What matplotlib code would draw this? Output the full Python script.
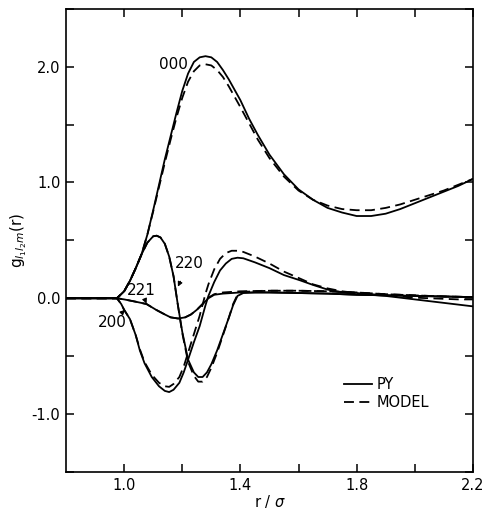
import matplotlib
matplotlib.use("Agg")
import matplotlib.pyplot as plt
from matplotlib.lines import Line2D

plt.rcParams['font.family'] = ['DejaVu Sans']

# ---- data ----
x000 = [0.80, 0.975, 1.00, 1.02, 1.04, 1.06, 1.08, 1.10, 1.12, 1.14, 1.16, 1.18, 1.20, 1.22, 1.24, 1.26, 1.28,
        1.30, 1.32, 1.34, 1.36, 1.38, 1.40, 1.43, 1.46, 1.50, 1.55, 1.60, 1.65, 1.70, 1.75, 1.80, 1.85, 1.90,
        1.95, 2.00, 2.05, 2.10, 2.15, 2.20]
py000 = [0.0, 0.0, 0.06, 0.15, 0.26, 0.38, 0.55, 0.76, 0.98, 1.20, 1.40, 1.60, 1.79, 1.94, 2.04, 2.08, 2.09,
         2.08, 2.04, 1.97, 1.89, 1.80, 1.71, 1.55, 1.41, 1.24, 1.07, 0.94, 0.85, 0.78, 0.74, 0.71, 0.71, 0.73,
         0.77, 0.82, 0.87, 0.92, 0.97, 1.03]
md000 = [0.0, 0.0, 0.06, 0.15, 0.26, 0.38, 0.55, 0.75, 0.96, 1.17, 1.37, 1.56, 1.73, 1.87, 1.96, 2.01, 2.02,
         2.01, 1.97, 1.91, 1.83, 1.74, 1.65, 1.51, 1.37, 1.21, 1.05, 0.93, 0.85, 0.80, 0.77, 0.76, 0.76, 0.78,
         0.81, 0.85, 0.89, 0.93, 0.98, 1.03]

x220 = [0.80, 0.975, 1.00, 1.02, 1.04, 1.06, 1.08, 1.10, 1.112, 1.125, 1.14, 1.155, 1.17, 1.185, 1.20, 1.22,
        1.24, 1.255, 1.27, 1.285, 1.30, 1.32, 1.34, 1.36, 1.375, 1.39, 1.41, 1.45, 1.50, 1.60, 1.70, 1.80,
        1.90, 2.00, 2.10, 2.20]
py220 = [0.0, 0.0, 0.06, 0.15, 0.26, 0.38, 0.48, 0.535, 0.54, 0.525, 0.47, 0.36, 0.19, -0.06, -0.29, -0.53,
         -0.64, -0.68, -0.68, -0.64, -0.57, -0.45, -0.31, -0.17, -0.06, 0.02, 0.045, 0.05, 0.05, 0.045, 0.04,
         0.03, 0.025, 0.02, 0.015, 0.01]
md220 = [0.0, 0.0, 0.06, 0.15, 0.26, 0.38, 0.48, 0.535, 0.54, 0.525, 0.47, 0.36, 0.19, -0.06, -0.30, -0.55,
         -0.67, -0.72, -0.72, -0.68, -0.60, -0.47, -0.32, -0.17, -0.05, 0.03, 0.055, 0.06, 0.065, 0.065, 0.06,
         0.05, 0.035, 0.025, 0.015, 0.01]

x200 = [0.80, 0.975, 0.99, 1.00, 1.02, 1.04, 1.054, 1.07, 1.095, 1.12, 1.14, 1.155, 1.17, 1.19, 1.205, 1.22,
        1.24, 1.26, 1.28, 1.29, 1.31, 1.33, 1.35, 1.37, 1.39, 1.41, 1.45, 1.50, 1.55, 1.605, 1.65, 1.70,
        1.75, 1.80, 1.85, 1.90, 1.95, 2.00, 2.05, 2.10, 2.15, 2.20]
py200 = [0.0, 0.0, -0.05, -0.10, -0.18, -0.32, -0.45, -0.56, -0.68, -0.76, -0.80, -0.81, -0.79, -0.73, -0.64,
         -0.53, -0.38, -0.24, -0.06, 0.02, 0.14, 0.24, 0.30, 0.34, 0.35, 0.345, 0.31, 0.26, 0.20, 0.155, 0.115,
         0.075, 0.05, 0.035, 0.03, 0.02, 0.005, -0.01, -0.025, -0.04, -0.055, -0.07]
md200 = [0.0, 0.0, -0.05, -0.10, -0.18, -0.32, -0.44, -0.55, -0.66, -0.73, -0.76, -0.765, -0.74, -0.68, -0.59,
         -0.47, -0.31, -0.15, 0.04, 0.12, 0.25, 0.34, 0.39, 0.41, 0.41, 0.40, 0.36, 0.30, 0.23, 0.17, 0.12,
         0.085, 0.06, 0.045, 0.035, 0.025, 0.015, 0.005, 0.0, -0.005, -0.01, -0.01]

x221 = [0.80, 0.975, 1.00, 1.04, 1.077, 1.11, 1.14, 1.16, 1.186, 1.21, 1.23, 1.25, 1.27, 1.29, 1.31, 1.34,
        1.40, 1.50, 1.60, 1.70, 1.80, 1.90, 2.00, 2.10, 2.20]
py221 = [0.0, 0.0, -0.01, -0.03, -0.05, -0.10, -0.14, -0.165, -0.175, -0.165, -0.14, -0.10, -0.05, 0.0, 0.03,
         0.04, 0.05, 0.05, 0.045, 0.04, 0.03, 0.025, 0.02, 0.015, 0.01]
md221 = [0.0, 0.0, -0.01, -0.03, -0.05, -0.10, -0.14, -0.165, -0.175, -0.165, -0.14, -0.10, -0.05, 0.005,
         0.035, 0.05, 0.06, 0.065, 0.065, 0.06, 0.05, 0.035, 0.025, 0.015, 0.01]

labels = ["000", "220", "221", "200"]
label_xy = [(1.171, 2.02), (1.223, 0.30), (1.058, 0.07), (0.958, -0.21)]
arrow_to = [None, (1.185, 0.10), (1.077, -0.046), (1.003, -0.10)]

xticks = [1.0, 1.2, 1.4, 1.6, 1.8, 2.0, 2.2]
xtick_labels = ["1.0", "", "1.4", "", "1.8", "", "2.2"]
yticks = [-1.5, -1.0, -0.5, 0.0, 0.5, 1.0, 1.5, 2.0, 2.5]
ytick_labels = ["", "-1.0", "", "0.0", "", "1.0", "", "2.0", ""]

# ---- figure ----
fig = plt.figure(figsize=(4.84, 5.08), dpi=100)
ax = fig.add_axes([0.1364, 0.0709, 0.8406, 0.912])

lw = 1.3
dash = (0, (5.5, 3))
for xs, py, md in [(x000, py000, md000), (x220, py220, md220), (x200, py200, md200), (x221, py221, md221)]:
    ax.plot(xs, py, color='black', lw=lw, solid_joinstyle='round')
    ax.plot(xs, md, color='black', lw=lw, linestyle=dash)

ax.set_xlim(0.8, 2.2)
ax.set_ylim(-1.5, 2.5)
ax.set_xticks(xticks)
ax.set_xticklabels(xtick_labels)
ax.set_yticks(yticks)
ax.set_yticklabels(ytick_labels)
ax.tick_params(direction='in', length=6, width=1.1, top=True, right=True, labelsize=10.5, pad=4)
for s in ax.spines.values():
    s.set_linewidth(1.2)

ax.set_xlabel(r"r / $\sigma$", fontsize=10.5, labelpad=0)
ax.set_ylabel(r"g$_{l_1 l_2 m}$(r)", fontsize=11, labelpad=2)

for lab, xy, tgt in zip(labels, label_xy, arrow_to):
    if tgt is None:
        ax.text(xy[0], xy[1], lab, fontsize=11, ha='center', va='center')
    else:
        ax.annotate(lab, xy=tgt, xytext=xy, fontsize=11, ha='center', va='center',
                    arrowprops=dict(arrowstyle='-|>', color='black', lw=0.8, mutation_scale=7,
                                    shrinkA=6, shrinkB=0))

handles = [Line2D([], [], color='black', lw=lw),
           Line2D([], [], color='black', lw=lw, linestyle=dash)]
ax.legend(handles, ["PY", "MODEL"], loc='upper left', bbox_to_anchor=(0.652, 0.234), frameon=False,
          fontsize=10.5, handlelength=1.9, handletextpad=0.3, labelspacing=0.2)

fig.savefig("out.png", dpi=100)
